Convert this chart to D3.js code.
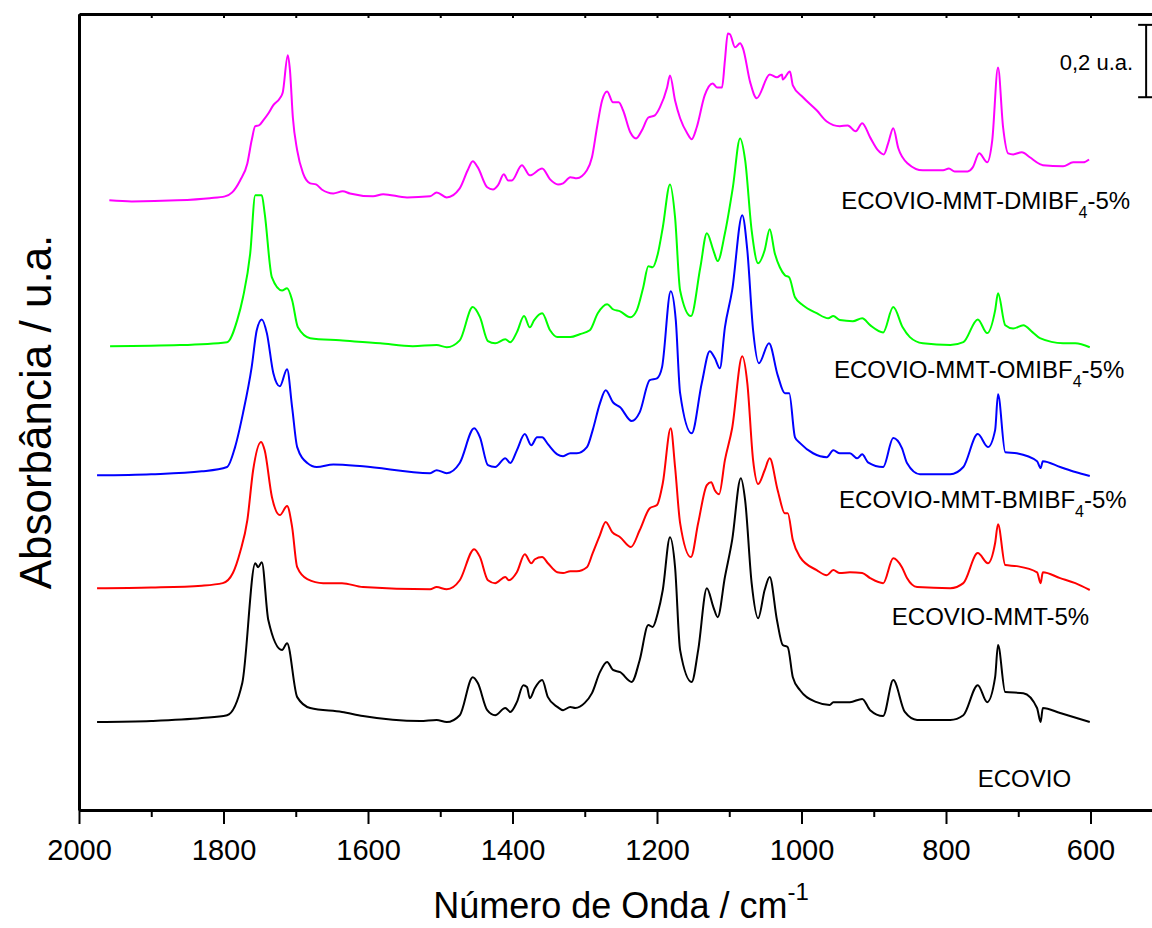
<!DOCTYPE html>
<html>
<head>
<meta charset="utf-8">
<script src="https://cdn.jsdelivr.net/npm/d3@7"></script>
<style>
  body { margin: 0; background: #fff; }
  svg { display: block; font-family: Arial, "Liberation Sans", sans-serif; }
</style>
</head>
<body>
<div id="chart"></div>
<script>
/**
 * DATA - FTIR spectra, [wavenumber (cm-1), absorbance (u.a., offset included)]
 * */
const ecovio = [[1975,0.243],[1900,0.246],[1830,0.254],[1795,0.262],[1774,0.351],[1756,0.682],[1752,0.671],[1747,0.685],[1738,0.525],[1719,0.442],[1712,0.461],[1698,0.312],[1680,0.282],[1636,0.271],[1607,0.260],[1528,0.246],[1505,0.249],[1491,0.243],[1473,0.262],[1455,0.367],[1448,0.351],[1435,0.276],[1424,0.262],[1410,0.282],[1403,0.271],[1394,0.298],[1385,0.345],[1380,0.340],[1376,0.309],[1369,0.337],[1359,0.359],[1351,0.312],[1338,0.285],[1330,0.276],[1320,0.285],[1313,0.282],[1300,0.296],[1290,0.323],[1279,0.381],[1269,0.409],[1261,0.387],[1251,0.381],[1235,0.354],[1224,0.414],[1212,0.511],[1206,0.506],[1199,0.544],[1192,0.608],[1182,0.754],[1175,0.671],[1168,0.442],[1152,0.354],[1143,0.442],[1131,0.613],[1122,0.561],[1116,0.533],[1106,0.644],[1096,0.746],[1084,0.917],[1078,0.856],[1069,0.627],[1060,0.530],[1051,0.608],[1044,0.644],[1034,0.525],[1026,0.456],[1019,0.450],[1012,0.367],[1002,0.331],[979,0.298],[961,0.290],[956,0.298],[933,0.298],[916,0.307],[905,0.276],[887,0.260],[873,0.359],[857,0.271],[840,0.249],[794,0.249],[776,0.262],[756,0.345],[743,0.298],[732,0.367],[728,0.456],[718,0.326],[693,0.323],[674,0.282],[669,0.243],[666,0.282],[642,0.268],[601,0.243]];

const ecovioMMT = [[1975,0.613],[1900,0.615],[1830,0.620],[1801,0.627],[1787,0.655],[1777,0.713],[1767,0.801],[1759,0.939],[1748,1.017],[1743,0.994],[1733,0.865],[1722,0.815],[1712,0.840],[1705,0.782],[1698,0.671],[1684,0.638],[1662,0.627],[1636,0.627],[1607,0.616],[1514,0.610],[1505,0.616],[1491,0.610],[1473,0.635],[1453,0.721],[1445,0.699],[1434,0.635],[1424,0.627],[1410,0.644],[1405,0.635],[1394,0.657],[1383,0.707],[1374,0.682],[1369,0.693],[1359,0.699],[1351,0.682],[1338,0.657],[1330,0.655],[1320,0.660],[1311,0.660],[1297,0.671],[1289,0.710],[1279,0.760],[1271,0.796],[1262,0.768],[1251,0.754],[1236,0.727],[1224,0.773],[1210,0.834],[1200,0.843],[1192,0.903],[1181,1.055],[1175,0.948],[1168,0.793],[1153,0.699],[1143,0.793],[1131,0.898],[1125,0.906],[1120,0.884],[1114,0.873],[1106,0.967],[1096,1.055],[1082,1.254],[1075,1.180],[1067,0.967],[1060,0.901],[1051,0.939],[1044,0.972],[1033,0.884],[1023,0.820],[1019,0.820],[1012,0.746],[1002,0.699],[979,0.663],[965,0.649],[956,0.663],[947,0.655],[933,0.657],[916,0.655],[905,0.641],[887,0.627],[873,0.696],[861,0.671],[854,0.641],[840,0.616],[794,0.613],[776,0.627],[756,0.710],[742,0.682],[732,0.738],[728,0.790],[718,0.677],[702,0.674],[674,0.657],[669,0.627],[666,0.657],[642,0.641],[621,0.627],[601,0.608]];

const bmibf4 = [[1975,0.925],[1900,0.928],[1830,0.936],[1795,0.948],[1784,1.003],[1773,1.097],[1761,1.224],[1754,1.326],[1747,1.356],[1740,1.318],[1731,1.207],[1722,1.171],[1712,1.218],[1705,1.113],[1698,1.003],[1684,0.959],[1671,0.948],[1648,0.955],[1607,0.950],[1514,0.931],[1505,0.939],[1491,0.931],[1473,0.959],[1453,1.055],[1445,1.030],[1434,0.953],[1424,0.948],[1410,0.972],[1403,0.959],[1394,0.994],[1383,1.039],[1374,1.008],[1366,1.030],[1359,1.030],[1351,1.011],[1338,0.983],[1330,0.978],[1320,0.986],[1311,0.986],[1297,1.003],[1289,1.050],[1279,1.124],[1271,1.160],[1261,1.127],[1251,1.113],[1235,1.075],[1224,1.099],[1210,1.188],[1200,1.193],[1193,1.224],[1181,1.434],[1174,1.354],[1168,1.152],[1152,1.041],[1138,1.180],[1127,1.268],[1120,1.249],[1113,1.221],[1106,1.334],[1096,1.436],[1082,1.644],[1075,1.547],[1067,1.326],[1059,1.235],[1045,1.290],[1033,1.202],[1023,1.152],[1017,1.152],[1009,1.030],[1002,1.014],[984,0.986],[965,0.975],[956,0.994],[947,0.986],[933,0.986],[923,0.972],[916,0.983],[908,0.961],[887,0.948],[873,1.028],[861,1.000],[854,0.959],[836,0.928],[794,0.928],[776,0.948],[756,1.039],[742,1.003],[732,1.050],[728,1.149],[718,0.989],[702,0.986],[674,0.964],[669,0.945],[666,0.964],[642,0.948],[621,0.934],[601,0.923]];

const omibf4 = [[1957,1.282],[1860,1.285],[1795,1.293],[1781,1.354],[1773,1.417],[1763,1.539],[1756,1.699],[1747,1.699],[1743,1.649],[1733,1.472],[1719,1.436],[1712,1.442],[1705,1.409],[1697,1.334],[1680,1.304],[1639,1.298],[1583,1.290],[1538,1.282],[1505,1.285],[1491,1.279],[1473,1.298],[1455,1.390],[1445,1.362],[1434,1.296],[1424,1.290],[1410,1.301],[1403,1.293],[1394,1.320],[1384,1.365],[1376,1.334],[1370,1.354],[1359,1.373],[1348,1.326],[1338,1.307],[1320,1.307],[1307,1.315],[1293,1.326],[1282,1.373],[1269,1.398],[1261,1.384],[1251,1.378],[1237,1.362],[1228,1.381],[1219,1.445],[1212,1.503],[1206,1.500],[1199,1.536],[1192,1.610],[1182,1.729],[1175,1.638],[1168,1.436],[1153,1.365],[1140,1.500],[1131,1.594],[1122,1.547],[1116,1.517],[1106,1.594],[1095,1.721],[1085,1.856],[1078,1.796],[1069,1.602],[1060,1.511],[1051,1.547],[1044,1.605],[1037,1.539],[1030,1.500],[1023,1.478],[1017,1.472],[1009,1.417],[998,1.395],[979,1.373],[963,1.359],[956,1.365],[947,1.354],[929,1.351],[916,1.359],[905,1.340],[887,1.320],[873,1.390],[860,1.334],[850,1.307],[832,1.290],[794,1.285],[776,1.293],[756,1.356],[743,1.318],[732,1.381],[728,1.428],[718,1.340],[707,1.331],[693,1.340],[680,1.320],[670,1.304],[638,1.290],[621,1.290],[601,1.279]];

const dmibf4 = [[1958,1.685],[1927,1.682],[1864,1.685],[1819,1.691],[1798,1.696],[1788,1.707],[1777,1.740],[1767,1.787],[1761,1.851],[1756,1.890],[1751,1.892],[1745,1.906],[1738,1.925],[1731,1.948],[1722,1.967],[1718,1.983],[1711,2.086],[1708,2.044],[1704,1.914],[1698,1.823],[1690,1.760],[1680,1.732],[1672,1.729],[1664,1.715],[1648,1.704],[1635,1.710],[1625,1.704],[1593,1.696],[1579,1.702],[1546,1.693],[1514,1.696],[1505,1.707],[1491,1.693],[1473,1.718],[1462,1.768],[1455,1.793],[1448,1.776],[1435,1.721],[1427,1.715],[1420,1.727],[1412,1.757],[1406,1.740],[1401,1.740],[1387,1.782],[1376,1.754],[1359,1.773],[1348,1.743],[1337,1.729],[1330,1.732],[1320,1.749],[1311,1.746],[1297,1.768],[1290,1.804],[1283,1.887],[1276,1.961],[1269,1.986],[1261,1.956],[1253,1.956],[1247,1.934],[1237,1.873],[1229,1.856],[1221,1.878],[1212,1.914],[1203,1.920],[1196,1.942],[1186,1.997],[1182,2.030],[1175,1.961],[1168,1.912],[1158,1.870],[1152,1.854],[1145,1.887],[1134,1.975],[1123,2.008],[1117,1.997],[1110,1.997],[1106,2.072],[1102,2.146],[1099,2.144],[1092,2.108],[1085,2.119],[1081,2.105],[1071,2.011],[1062,1.967],[1044,2.033],[1034,2.025],[1027,2.033],[1026,2.019],[1016,2.041],[1012,2.003],[998,1.970],[979,1.934],[965,1.903],[947,1.890],[936,1.892],[925,1.876],[916,1.898],[905,1.859],[894,1.823],[886,1.812],[880,1.843],[873,1.884],[866,1.829],[853,1.787],[832,1.768],[804,1.768],[796,1.773],[788,1.765],[770,1.765],[763,1.776],[754,1.815],[743,1.790],[736,1.851],[728,2.052],[721,1.887],[714,1.815],[707,1.812],[695,1.818],[684,1.804],[670,1.785],[666,1.782],[638,1.779],[624,1.790],[610,1.790],[602,1.798]];

// series names: [main text, subscript, tail]
const seriesNames = [
  ["ECOVIO", "", ""],
  ["ECOVIO-MMT-5%", "", ""],
  ["ECOVIO-MMT-BMIBF", "4", "-5%"],
  ["ECOVIO-MMT-OMIBF", "4", "-5%"],
  ["ECOVIO-MMT-DMIBF", "4", "-5%"],
];
const seriesData = [ecovio, ecovioMMT, bmibf4, omibf4, dmibf4];
const seriesColors = ["#000000", "#ff0000", "#0000ff", "#00ff00", "#ff00ff"];

const xMajorTicks = [2000, 1800, 1600, 1400, 1200, 1000, 800, 600];
const xMinorTicks = [1900, 1700, 1500, 1300, 1100, 900, 700, 500];
const scaleBarValue = 0.2;

/**
 * CONSTANTS
 * */
const width = 1152,
    height = 928,
    margin = { top: 14, bottom: 118, left: 79 };

// label anchors in data coords [wavenumber, absorbance]
const labelPos = [[756, 0.064], [875, 0.511], [948, 0.834], [955, 1.193], [945, 1.660]];

const svg = d3.select("#chart")
    .append("svg")
    .attr("width", width)
    .attr("height", height);

// x axis goes 2000 -> 500, the right part is cut by the picture
const x = d3.scaleLinear()
    .domain([2000, 500])
    .range([margin.left, margin.left + 1500 * 0.7225]);

const y = d3.scaleLinear()
    .domain([0, 2.2])
    .range([height - margin.bottom, margin.top]);

const line = d3.line()
    .x(d => x(d[0]))
    .y(d => y(d[1]))
    .curve(d3.curveMonotoneX);

// spectra
svg.selectAll("path.spectrum")
    .data(seriesData)
    .join("path")
    .attr("class", "spectrum")
    .attr("d", line)
    .attr("fill", "none")
    .attr("stroke", (d, i) => seriesColors[i])
    .attr("stroke-width", 2)
    .attr("stroke-linejoin", "round");

// labels
const labels = svg.selectAll("text.series")
    .data(seriesNames)
    .join("text")
    .attr("class", "series")
    .attr("x", (d, i) => x(labelPos[i][0]))
    .attr("y", (d, i) => y(labelPos[i][1]))
    .attr("font-size", 24)
    .attr("fill", "#000");
labels.append("tspan").text(d => d[0]);
labels.filter(d => d[1]).append("tspan")
    .attr("font-size", 16)
    .attr("dy", 9)
    .text(d => d[1]);
labels.filter(d => d[2]).append("tspan")
    .attr("dy", -9)
    .text(d => d[2]);

// bottom axis, major + minor
const bottomG = svg.append("g")
    .attr("transform", `translate(0,${y(0)})`)
    .call(d3.axisBottom(x).tickValues(xMajorTicks).tickSize(14).tickSizeOuter(0)
        .tickPadding(15).tickFormat(d3.format("d")));
bottomG.select(".domain").attr("stroke-width", 3);
bottomG.selectAll(".tick line").attr("stroke-width", 2);
bottomG.selectAll(".tick text")
    .attr("font-size", 29)
    .attr("font-family", "Arial, 'Liberation Sans', sans-serif")
    .attr("fill", "#000");

const minorG = svg.append("g")
    .attr("transform", `translate(0,${y(0)})`)
    .call(d3.axisBottom(x).tickValues(xMinorTicks).tickSize(7).tickFormat(""));
minorG.select(".domain").remove();
minorG.selectAll(".tick line").attr("stroke-width", 2);

// top axis, small inward ticks
const topG = svg.append("g")
    .attr("transform", `translate(0,${y(2.2)})`)
    .call(d3.axisTop(x).tickValues(xMajorTicks.concat(xMinorTicks)).tickSize(-4)
        .tickSizeOuter(0).tickFormat(""));
topG.select(".domain").attr("stroke-width", 3);
topG.selectAll(".tick line").attr("stroke-width", 2);

// left axis, no ticks
const leftG = svg.append("g")
    .attr("transform", `translate(${x(2000)},0)`)
    .call(d3.axisLeft(y).tickValues([]).tickSizeOuter(0));
leftG.select(".domain").attr("stroke-width", 3);

// scale bar 0,2 u.a.
const barX = x(523), barTop = 2.17;
svg.append("line")
    .attr("x1", barX).attr("x2", barX)
    .attr("y1", y(barTop)).attr("y2", y(barTop - scaleBarValue))
    .attr("stroke", "#000").attr("stroke-width", 2);
[barTop, barTop - scaleBarValue].forEach(v => {
    svg.append("line")
        .attr("x1", barX - 8).attr("x2", barX + 8)
        .attr("y1", y(v)).attr("y2", y(v))
        .attr("stroke", "#000").attr("stroke-width", 2);
});
svg.append("text")
    .attr("x", x(541))
    .attr("y", y(2.044))
    .attr("text-anchor", "end")
    .attr("font-size", 22)
    .text("0,2 u.a.");

// axis titles
const xTitle = svg.append("text")
    .attr("x", 621)
    .attr("y", 918)
    .attr("text-anchor", "middle")
    .attr("font-size", 36);
xTitle.append("tspan").text("Número de Onda / cm");
xTitle.append("tspan").attr("font-size", 24).attr("dy", -18).text("-1");

svg.append("text")
    .attr("transform", `translate(51,${(y(0) + y(2.2)) / 2}) rotate(-90)`)
    .attr("text-anchor", "middle")
    .attr("font-size", 44)
    .text("Absorbância / u.a.");
</script>
</body>
</html>
